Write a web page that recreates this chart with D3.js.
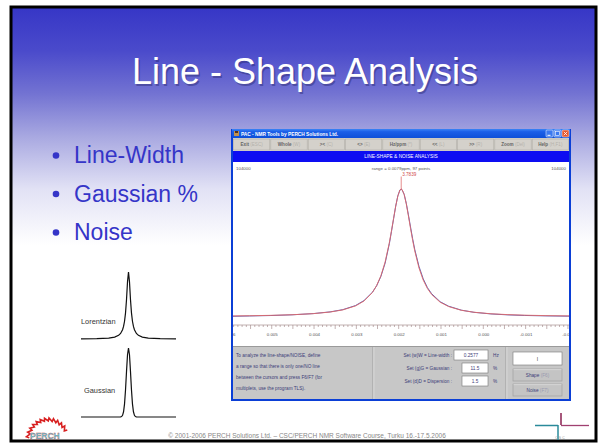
<!DOCTYPE html>
<html><head><meta charset="utf-8">
<script src="https://cdn.jsdelivr.net/npm/d3@7"></script>
<style>body{margin:0;background:#fff}svg{display:block}text{font-family:"Liberation Sans",Arial,sans-serif}</style>
</head><body><svg id="c" width="602" height="447"></svg>
<script>
// ---------- data ----------
const titleText = "Line - Shape Analysis";
const bullets = ["Line-Width", "Gaussian %", "Noise"];
const toolbarLabels = ["Exit", "Whole", "><", "<>", "Hz/ppm", "<<", ">>", "Zoom", "Help"];
const toolbarKeys = ["(ESC)", "(W)", "(C)", "(E)", "(*)", "(L)", "(R)", "(Del)", "(H,F1)"];
const ppmTicks = [0.006, 0.005, 0.004, 0.003, 0.002, 0.001, 0.000, -0.001, -0.002];
const ppmDomain = [0.005915, -0.002025];
const ppm = [0.00592, 0.00552, 0.00502, 0.00452, 0.00402, 0.00362, 0.00332, 0.00302, 0.00282, 0.00262,
  0.00252, 0.00242, 0.00232, 0.00222, 0.00217, 0.00212, 0.00207, 0.00202, 0.00197, 0.00194,
  0.00192, 0.00187, 0.00182, 0.00177, 0.00172, 0.00167, 0.00162, 0.00152, 0.00142, 0.00132,
  0.00122, 0.00102, 0.00082, 0.00052, 0.00022, -0.00018, -0.00058, -0.00098, -0.00148, -0.00198, -0.00203];
const fitted = [0.0068, 0.0084, 0.0113, 0.0161, 0.0246, 0.0372, 0.054, 0.085, 0.123, 0.190,
  0.245, 0.321, 0.429, 0.581, 0.673, 0.770, 0.866, 0.944, 0.992, 1.0,
  0.996, 0.957, 0.883, 0.790, 0.692, 0.599, 0.515, 0.382, 0.287, 0.221,
  0.174, 0.114, 0.080, 0.051, 0.0355, 0.0237, 0.0169, 0.0126, 0.0092, 0.0070, 0.0069];
const measured = [0.0040, 0.0065, 0.0100, 0.0155, 0.0250, 0.0385, 0.056, 0.088, 0.127, 0.192,
  0.243, 0.316, 0.420, 0.572, 0.668, 0.768, 0.866, 0.946, 0.993, 0.998,
  0.994, 0.958, 0.888, 0.798, 0.703, 0.611, 0.527, 0.394, 0.297, 0.228,
  0.180, 0.118, 0.083, 0.052, 0.035, 0.0225, 0.0150, 0.0105, 0.0070, 0.0050, 0.0048];
const headerLeft = "104000", headerRight = "104000", headerCenter = "range = 0.0079ppm, 97 points";
const peakLabel = "3.7839", peakPpm = 0.00194;
const panelText = ["To analyze the line-shape/NOISE, define", "a range so that there is only one/NO line",
  "between the cursors and press F6/F7 (for", "multiplets, use the program TLS)."];
const paramLabels = ["Set (w)W = Line-width :", "Set (g)G = Gaussian :", "Set (d)D = Dispersion :"];
const paramValues = ["0.2577", "11.5", "1.5"];
const paramUnits = ["Hz", "%", "%"];
const panelButtons = [["Shape", "(F6)"], ["Noise", "(F7)"]];
const demoX = [-24, -16, -10, -7, -5, -4, -3, -2.5, -2, -1.5, -1, -0.5, 0, 0.5, 1, 1.5, 2, 2.5, 3, 4, 5, 7, 10, 16, 24];
const lorentzY = [0.0025, 0.0056, 0.0142, 0.0286, 0.0544, 0.0826, 0.138, 0.187, 0.265, 0.390, 0.590, 0.852, 1,
  0.852, 0.590, 0.390, 0.265, 0.187, 0.138, 0.0826, 0.0544, 0.0286, 0.0142, 0.0056, 0.0025];
const gaussX = [-24, -5, -4, -3.5, -3, -2.5, -2, -1.5, -1, -0.5, 0, 0.5, 1, 1.5, 2, 2.5, 3, 3.5, 4, 5, 24];
const gaussY = [0, 0, 0.0014, 0.0063, 0.0243, 0.0757, 0.191, 0.395, 0.661, 0.902, 1,
  0.902, 0.661, 0.395, 0.191, 0.0757, 0.0243, 0.0063, 0.0014, 0, 0];
const demoLabels = ["Lorentzian", "Gaussian"];
const footer = "\u00a9 2001-2006 PERCH Solutions Ltd. \u2013 CSC/PERCH NMR Software Course, Turku 16.-17.5.2006";

// ---------- drawing ----------
const svg = d3.select("#c");
const defs = svg.append("defs");
function vgrad(id, stops) {
  const g = defs.append("linearGradient").attr("id", id).attr("x1", 0).attr("y1", 0).attr("x2", 0).attr("y2", 1);
  stops.forEach(s => g.append("stop").attr("offset", s[0]).attr("stop-color", s[1]));
}
vgrad("bg", [[0, "#3636c6"], [0.1, "#4a4acb"], [0.2, "#7373d2"], [0.3, "#a9a9e1"], [0.42, "#e2e2f5"], [0.55, "#ffffff"]]);
vgrad("tb", [[0, "#3b84f6"], [0.3, "#1a5ee8"], [1, "#0d4fd8"]]);

// slide
svg.append("rect").attr("x", 11).attr("y", 7).attr("width", 585).attr("height", 434)
  .attr("fill", "url(#bg)").attr("stroke", "#000").attr("stroke-width", 3);

// title
svg.append("text").attr("x", 306.5).attr("y", 85.5).attr("text-anchor", "middle").attr("font-size", 36)
  .attr("fill", "#2a2a70").attr("opacity", 0.45).text(titleText);
svg.append("text").attr("x", 305).attr("y", 84).attr("text-anchor", "middle").attr("font-size", 36)
  .attr("fill", "#fff").text(titleText);

// bullets
bullets.forEach((b, i) => {
  const y = 163 + i * 38.5;
  svg.append("circle").attr("cx", 56).attr("cy", y - 7.5).attr("r", 3.3).attr("fill", "#3535c8");
  svg.append("text").attr("x", 74).attr("y", y).attr("font-size", 23).attr("fill", "#3535c8").text(b);
});

// demo lineshapes
svg.append("rect").attr("x", 70).attr("y", 260).attr("width", 115).attr("height", 171).attr("fill", "#fff");
const dx = d3.scaleLinear().domain([-24, 24]).range([81, 176]);
const yL = d3.scaleLinear().domain([0, 1]).range([339, 272]);
const yG = d3.scaleLinear().domain([0, 1]).range([417, 348]);
svg.append("path").attr("d", d3.line().x((d, i) => dx(demoX[i])).y(d => yL(d))(lorentzY))
  .attr("fill", "none").attr("stroke", "#111").attr("stroke-width", 1.2);
svg.append("path").attr("d", d3.line().x((d, i) => dx(gaussX[i])).y(d => yG(d))(gaussY))
  .attr("fill", "none").attr("stroke", "#111").attr("stroke-width", 1.2);
svg.append("text").attr("x", 81).attr("y", 324).attr("font-size", 7.4).attr("fill", "#333").attr("opacity", 0.99).text(demoLabels[0]);
svg.append("text").attr("x", 84).attr("y", 393).attr("font-size", 7.4).attr("fill", "#333").attr("opacity", 0.99).text(demoLabels[1]);

// ---------- window ----------
const wx0 = 232, wx1 = 570, wy0 = 129, wy1 = 400;
svg.append("rect").attr("x", wx0 - 1).attr("y", wy0).attr("width", wx1 - wx0 + 2).attr("height", wy1 - wy0 + 1)
  .attr("fill", "#0b3fd6");
// title bar
svg.append("rect").attr("x", wx0).attr("y", wy0).attr("width", wx1 - wx0).attr("height", 9).attr("fill", "url(#tb)");
svg.append("rect").attr("x", 234).attr("y", 131).attr("width", 5).attr("height", 5).attr("fill", "#c09050");
svg.append("rect").attr("x", 235).attr("y", 131).attr("width", 3).attr("height", 2).attr("fill", "#503020");
svg.append("text").attr("x", 241).attr("y", 135.8).attr("font-size", 4.8).attr("font-weight", "bold")
  .attr("fill", "#fff").text("PAC - NMR Tools by PERCH Solutions Ltd.");
[[546, "#3a78f0"], [554, "#3a78f0"], [562, "#e4572e"]].forEach(([x, c]) => {
  svg.append("rect").attr("x", x).attr("y", 130).attr("width", 7).attr("height", 7).attr("rx", 1)
    .attr("fill", c).attr("stroke", "#fff").attr("stroke-width", 0.5);
});
svg.append("rect").attr("x", 547.5).attr("y", 134.8).attr("width", 3).attr("height", 1).attr("fill", "#fff");
svg.append("rect").attr("x", 555.5).attr("y", 131.5).attr("width", 4).attr("height", 4).attr("fill", "none").attr("stroke", "#fff").attr("stroke-width", 0.6);
svg.append("path").attr("d", "M563.8,131.8L567.2,135.2M567.2,131.8L563.8,135.2").attr("stroke", "#fff").attr("stroke-width", 0.8);

// toolbar
svg.append("rect").attr("x", wx0 + 1).attr("y", 138).attr("width", wx1 - wx0 - 2).attr("height", 13).attr("fill", "#d8d5cf");
const bx = d3.scaleBand().domain(d3.range(toolbarLabels.length)).range([233, 569]);
toolbarLabels.forEach((lab, i) => {
  const x = bx(i);
  svg.append("rect").attr("x", x + 0.5).attr("y", 139).attr("width", bx.bandwidth() - 1).attr("height", 11)
    .attr("fill", "#d4d1cb").attr("stroke", "#a8a6a0").attr("stroke-width", 0.5);
  const t = svg.append("text").attr("x", x + bx.bandwidth() / 2).attr("y", 146.3).attr("text-anchor", "middle")
    .attr("font-size", 4.6).attr("font-weight", "bold");
  t.append("tspan").attr("fill", "#666").text(lab + " ");
  t.append("tspan").attr("fill", "#b4b2ac").attr("font-weight", "normal").text(toolbarKeys[i]);
});
// banner
svg.append("rect").attr("x", wx0 + 1).attr("y", 151).attr("width", wx1 - wx0 - 2).attr("height", 11).attr("fill", "#0d0df2");
svg.append("text").attr("x", 401).attr("y", 158.4).attr("text-anchor", "middle").attr("font-size", 4.8)
  .attr("fill", "#fff").text("LINE-SHAPE & NOISE ANALYSIS");

// plot area
const px0 = 233, px1 = 569, py0 = 162, py1 = 346;
svg.append("rect").attr("x", px0).attr("y", py0).attr("width", px1 - px0).attr("height", py1 - py0).attr("fill", "#fff");
defs.append("clipPath").attr("id", "pc").append("rect").attr("x", px0).attr("y", py0).attr("width", px1 - px0).attr("height", py1 - py0);
const plot = svg.append("g").attr("clip-path", "url(#pc)");
const x = d3.scaleLinear().domain(ppmDomain).range([px0, px1]);
const y = d3.scaleLinear().domain([0, 1]).range([316.8, 189]);

plot.append("text").attr("x", 236).attr("y", 170).attr("font-size", 4.4).attr("fill", "#555").text(headerLeft);
plot.append("text").attr("x", 566).attr("y", 170).attr("font-size", 4.4).attr("fill", "#555").attr("text-anchor", "end").text(headerRight);
plot.append("text").attr("x", 401).attr("y", 170).attr("font-size", 4.4).attr("fill", "#555").attr("text-anchor", "middle").text(headerCenter);

const line = d3.line().x((d, i) => x(ppm[i])).y(d => y(d));
plot.append("path").attr("d", line(measured)).attr("fill", "none").attr("stroke", "#5f5fb4").attr("stroke-width", 1);
plot.append("path").attr("d", line(fitted)).attr("fill", "none").attr("stroke", "#e06a6a").attr("stroke-width", 0.9);
plot.append("line").attr("x1", x(peakPpm)).attr("x2", x(peakPpm)).attr("y1", 176.5).attr("y2", y(1))
  .attr("stroke", "#e07070").attr("stroke-width", 0.8);
plot.append("text").attr("x", x(peakPpm) + 1).attr("y", 176).attr("font-size", 4.6).attr("fill", "#d04a4a").text(peakLabel);

// axis
const axisY = 325;
const ag = plot.append("g").attr("transform", `translate(0,${axisY})`);
ag.append("line").attr("x1", px0).attr("x2", px1).attr("stroke", "#9a8080").attr("stroke-width", 0.6);
const minor = x.ticks(80);
ag.selectAll("line.mn").data(minor).join("line").attr("class", "mn")
  .attr("x1", d => x(d)).attr("x2", d => x(d)).attr("y1", 0)
  .attr("y2", d => (Math.abs(Math.round(d * 2000) - d * 2000) < 1e-6 ? 4 : 2))
  .attr("stroke", "#9a8080").attr("stroke-width", 0.6);
const axis = d3.axisBottom(x).tickValues(ppmTicks).tickSize(0).tickPadding(8)
  .tickFormat(d => d3.format(".3f")(d).replace("\u2212", "-"));
ag.call(axis);
ag.select(".domain").remove();
ag.selectAll(".tick text").attr("font-size", 4.4).attr("fill", "#555").attr("font-family", '"Liberation Sans",Arial,sans-serif');

// bottom panel
svg.append("rect").attr("x", px0).attr("y", py1).attr("width", px1 - px0).attr("height", 53).attr("fill", "#c7c7c7");
svg.append("line").attr("x1", px0).attr("x2", px1).attr("y1", py1 + 0.5).attr("y2", py1 + 0.5).attr("stroke", "#9a9a9a").attr("stroke-width", 1);
[373, 506].forEach(xx => {
  svg.append("line").attr("x1", xx).attr("x2", xx).attr("y1", 347).attr("y2", 399).attr("stroke", "#8e8e8e").attr("stroke-width", 0.7);
  svg.append("line").attr("x1", xx + 0.8).attr("x2", xx + 0.8).attr("y1", 347).attr("y2", 399).attr("stroke", "#ececec").attr("stroke-width", 0.7);
});
panelText.forEach((t, i) => {
  svg.append("text").attr("x", 236).attr("y", 356.5 + i * 11).attr("font-size", 4.7).attr("fill", "#3c3c78").text(t);
});
const boxX = [454, 462, 462], boxY = [350, 363, 376];
paramLabels.forEach((t, i) => {
  svg.append("text").attr("x", 452).attr("y", boxY[i] + 6.8).attr("font-size", 4.7).attr("fill", "#3c3c78")
    .attr("text-anchor", "end").text(t);
  svg.append("rect").attr("x", boxX[i]).attr("y", boxY[i]).attr("width", 488 - boxX[i]).attr("height", 10)
    .attr("fill", "#fff").attr("stroke", "#777").attr("stroke-width", 0.6);
  svg.append("text").attr("x", (488 + boxX[i]) / 2).attr("y", boxY[i] + 6.8).attr("font-size", 4.7).attr("fill", "#3c3c78")
    .attr("text-anchor", "middle").text(paramValues[i]);
  svg.append("text").attr("x", 493).attr("y", boxY[i] + 6.8).attr("font-size", 4.7).attr("fill", "#3c3c78").text(paramUnits[i]);
});
svg.append("rect").attr("x", 513).attr("y", 352).attr("width", 49).attr("height", 13)
  .attr("fill", "#fff").attr("stroke", "#777").attr("stroke-width", 0.6);
svg.append("text").attr("x", 537.5).attr("y", 360.5).attr("font-size", 5).attr("fill", "#333").attr("text-anchor", "middle").text("I");
panelButtons.forEach((b, i) => {
  const yy = 369 + i * 15;
  svg.append("rect").attr("x", 513).attr("y", yy).attr("width", 49).attr("height", 12)
    .attr("fill", "#c4c4c4").attr("stroke", "#9a9a9a").attr("stroke-width", 0.6);
  svg.append("line").attr("x1", 513.5).attr("x2", 561.5).attr("y1", yy + 0.6).attr("y2", yy + 0.6).attr("stroke", "#e8e8e8").attr("stroke-width", 0.6);
  const t = svg.append("text").attr("x", 537.5).attr("y", yy + 7.6).attr("font-size", 4.7).attr("text-anchor", "middle");
  t.append("tspan").attr("fill", "#3c3c78").text(b[0] + " ");
  t.append("tspan").attr("fill", "#9a9ab0").text(b[1]);
});

// ---------- logos & footer ----------
const teeth = [];
for (let k = 0; k <= 12; k++) {
  const a = Math.PI * (0.95 - k * 0.065);
  teeth.push([48 + 19 * Math.cos(a), 441 - 20 * Math.sin(a)]);
  teeth.push([48 + 22 * Math.cos(a - 0.03), 441 - 23 * Math.sin(a - 0.03)]);
}
svg.append("path").attr("d", d3.line()(teeth)).attr("fill", "none").attr("stroke", "#d82020").attr("stroke-width", 1.6);
svg.append("text").attr("x", 30).attr("y", 439).attr("font-size", 8.5).attr("font-weight", "bold")
  .attr("fill", "#5cd0e0").attr("stroke", "#c04040").attr("stroke-width", 0.3).text("PERCH");
svg.append("line").attr("x1", 535).attr("x2", 558).attr("y1", 425.5).attr("y2", 425.5).attr("stroke", "#2a8a9a").attr("stroke-width", 1.5);
svg.append("line").attr("x1", 558).attr("x2", 558).attr("y1", 425).attr("y2", 440).attr("stroke", "#2a8a9a").attr("stroke-width", 1.5);
svg.append("line").attr("x1", 561).attr("x2", 561).attr("y1", 413).attr("y2", 425).attr("stroke", "#8a2050").attr("stroke-width", 1.5);
svg.append("line").attr("x1", 561).attr("x2", 589).attr("y1", 425.5).attr("y2", 425.5).attr("stroke", "#a04070").attr("stroke-width", 1.3);
svg.append("text").attr("x", 560).attr("y", 439).attr("font-size", 3.5).attr("fill", "#999").attr("text-anchor", "middle").text("C S C");
svg.append("text").attr("x", 307).attr("y", 438).attr("font-size", 6.5).attr("fill", "#888").attr("text-anchor", "middle").text(footer);
</script></body></html>
